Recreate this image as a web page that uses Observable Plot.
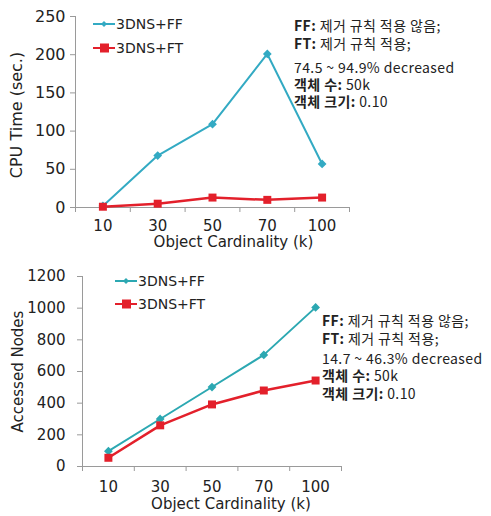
<!DOCTYPE html>
<html><head><meta charset="utf-8">
<script src="https://cdn.jsdelivr.net/npm/d3@7"></script>
<script src="https://cdn.jsdelivr.net/npm/@observablehq/plot@0.6"></script>
<style>
body{margin:0;background:#fff;}
#wrap{position:relative;width:491px;height:516px;background:#fff;overflow:hidden;}
.chart{position:absolute;left:0;}
.leg{position:absolute;display:flex;align-items:center;font-family:"DejaVu Sans";font-size:14px;color:#222;}
.leg svg{margin-right:1px;}
.note{position:absolute;font-family:"Noto Sans CJK KR";font-size:14px;letter-spacing:0.4px;line-height:1;color:#222;white-space:nowrap;}
.note div{position:absolute;left:0;transform:translateY(-50%);}
</style>
</head><body>
<div id="wrap"></div>
<script>
const categories = ["10", "30", "50", "70", "100"];
const seriesNames = ["3DNS+FF", "3DNS+FT"];
const cpuFF = [2, 68, 109, 201, 57];
const cpuFT = [1, 5, 13, 10, 13];
const nodesFF = [97, 300, 502, 705, 1005];
const nodesFT = [55, 260, 392, 480, 543];
const cpuTicks = [0, 50, 100, 150, 200, 250];
const nodeTicks = [0, 200, 400, 600, 800, 1000, 1200];
const xLabel = "Object Cardinality (k)";
const cpuLabel = "CPU Time (sec.)";
const nodeLabel = "Accessed Nodes";
const noteFF = "제거 규칙 적용 않음;";
const noteFT = "제거 규칙 적용;";
const cpuNote = "74.5 ~ 94.9% decreased";
const nodeNote = "14.7 ~ 46.3% decreased";
const countLabel = "객체 수:";
const countValue = "50k";
const sizeLabel = "객체 크기:";
const sizeValue = "0.10";

const RED = "#e3202b";

function rows(values) { return values.map((v, i) => ({i: i + 0.5, v})); }

function chart(o) {
  const ff = rows(o.ff), ft = rows(o.ft);
  return Plot.plot({
    width: 491, height: 258,
    marginLeft: o.ml, marginRight: o.mr, marginTop: o.mt, marginBottom: o.mb,
    style: {fontFamily: "DejaVu Sans", fontSize: "15px", color: "#222", background: "transparent", overflow: "visible"},
    x: {domain: [0, categories.length], axis: null},
    y: {domain: [0, o.ticks[o.ticks.length - 1]], axis: null},
    marks: [
      Plot.ruleX([0], {stroke: "#9a9a9a", strokeWidth: 1}),
      Plot.ruleY([0], {stroke: "#9a9a9a", strokeWidth: 1, x1: -0.06, x2: categories.length}),
      Plot.axisY({ticks: o.ticks, tickSize: 5, tickPadding: o.tp, stroke: "#9a9a9a", fill: "#222", label: null, tickFormat: d => String(d), fontSize: o.yfs, style: {letterSpacing: o.yls}}),
      Plot.axisX({ticks: d3.range(categories.length + 1), tickSize: 5, stroke: "#9a9a9a", tickFormat: () => "", label: null}),
      Plot.text(categories, {x: (d, i) => i + 0.5, text: d => d, frameAnchor: "bottom", lineAnchor: "middle", textAnchor: "middle", dy: o.tdy, fontSize: 15, fill: "#222", style: {letterSpacing: "1px"}}),
      Plot.text([xLabel], {frameAnchor: "bottom", lineAnchor: "middle", textAnchor: "middle", dy: o.ldy, dx: o.ldx, fontSize: 15, fill: "#222", style: {letterSpacing: "0.5px"}}),
      Plot.text([o.yLabel], {frameAnchor: "left", lineAnchor: "middle", textAnchor: "middle", dx: o.ydx, dy: o.ydy, rotate: -90, fontSize: o.ylfs, fill: "#222", style: {letterSpacing: o.ylls}}),
      Plot.line(ff, {x: "i", y: "v", stroke: o.teal, strokeWidth: 2}),
      Plot.line(ft, {x: "i", y: "v", stroke: RED, strokeWidth: 2.5}),
      Plot.dot(ff, {x: "i", y: "v", symbol: "diamond2", r: 3, fill: o.teal, stroke: o.teal}),
      Plot.dot(ft, {x: "i", y: "v", symbol: "square", r: 4.5, fill: RED, stroke: "none"})
    ]
  });
}

const wrap = document.getElementById("wrap");

const top1 = chart({ff: cpuFF, ft: cpuFT, ticks: cpuTicks, ml: 75, mr: 142, mt: 16, mb: 51, tp: 5,
  yfs: 16, yls: "3px", teal: "#33aac3", tdy: 19, ldy: 35, ldx: 21, yLabel: cpuLabel, ydx: -59, ydy: 3, ylfs: 16, ylls: "1.5px"});
top1.classList.add("chart"); top1.style.top = "0px";
wrap.appendChild(top1);

const bot = chart({ff: nodesFF, ft: nodesFT, ticks: nodeTicks, ml: 82, mr: 150, mt: 18, mb: 50, tp: 12,
  yfs: 15, yls: "1px", teal: "#2ca8b2", tdy: 21, ldy: 38, ldx: 19, yLabel: nodeLabel, ydx: -64, ydy: 0, ylfs: 15, ylls: "0px"});
bot.classList.add("chart"); bot.style.top = "258px";
wrap.appendChild(bot);

function legend(x, y, gap, teal) {
  const mk = (color, shape, label, yy) => {
    const d = document.createElement("div");
    d.className = "leg";
    d.style.left = x + "px"; d.style.top = (yy - 9) + "px";
    const marker = shape === "d"
      ? `<path d="M11,5 L14,8 L11,11 L8,8Z" fill="${color}"/>`
      : `<rect x="7" y="3.5" width="9" height="9" fill="${color}"/>`;
    d.innerHTML = `<svg width="22" height="16"><line x1="0" y1="8" x2="22" y2="8" stroke="${color}" stroke-width="2"/>${marker}</svg><span>${label}</span>`;
    wrap.appendChild(d);
  };
  mk(teal, "d", seriesNames[0], y);
  mk(RED, "s", seriesNames[1], y + gap);
}
legend(93, 25, 24, "#33aac3");
legend(115, 282, 23, "#2ca8b2");

function note(x, ys, pct) {
  const n = document.createElement("div");
  n.className = "note";
  n.style.left = x + "px"; n.style.top = "0px";
  const lines = [
    `<b>FF:</b> ${noteFF}`,
    `<b>FT:</b> ${noteFT}`,
    pct,
    `<b>${countLabel}</b> ${countValue}`,
    `<b>${sizeLabel}</b> ${sizeValue}`
  ];
  n.innerHTML = lines.map((t, i) => `<div style="top:${ys[i]}px">${t}</div>`).join("");
  wrap.appendChild(n);
}
note(294, [25, 43, 67, 84, 101], cpuNote);
note(322, [320, 338, 358, 375, 393], nodeNote);
</script>
</body></html>
